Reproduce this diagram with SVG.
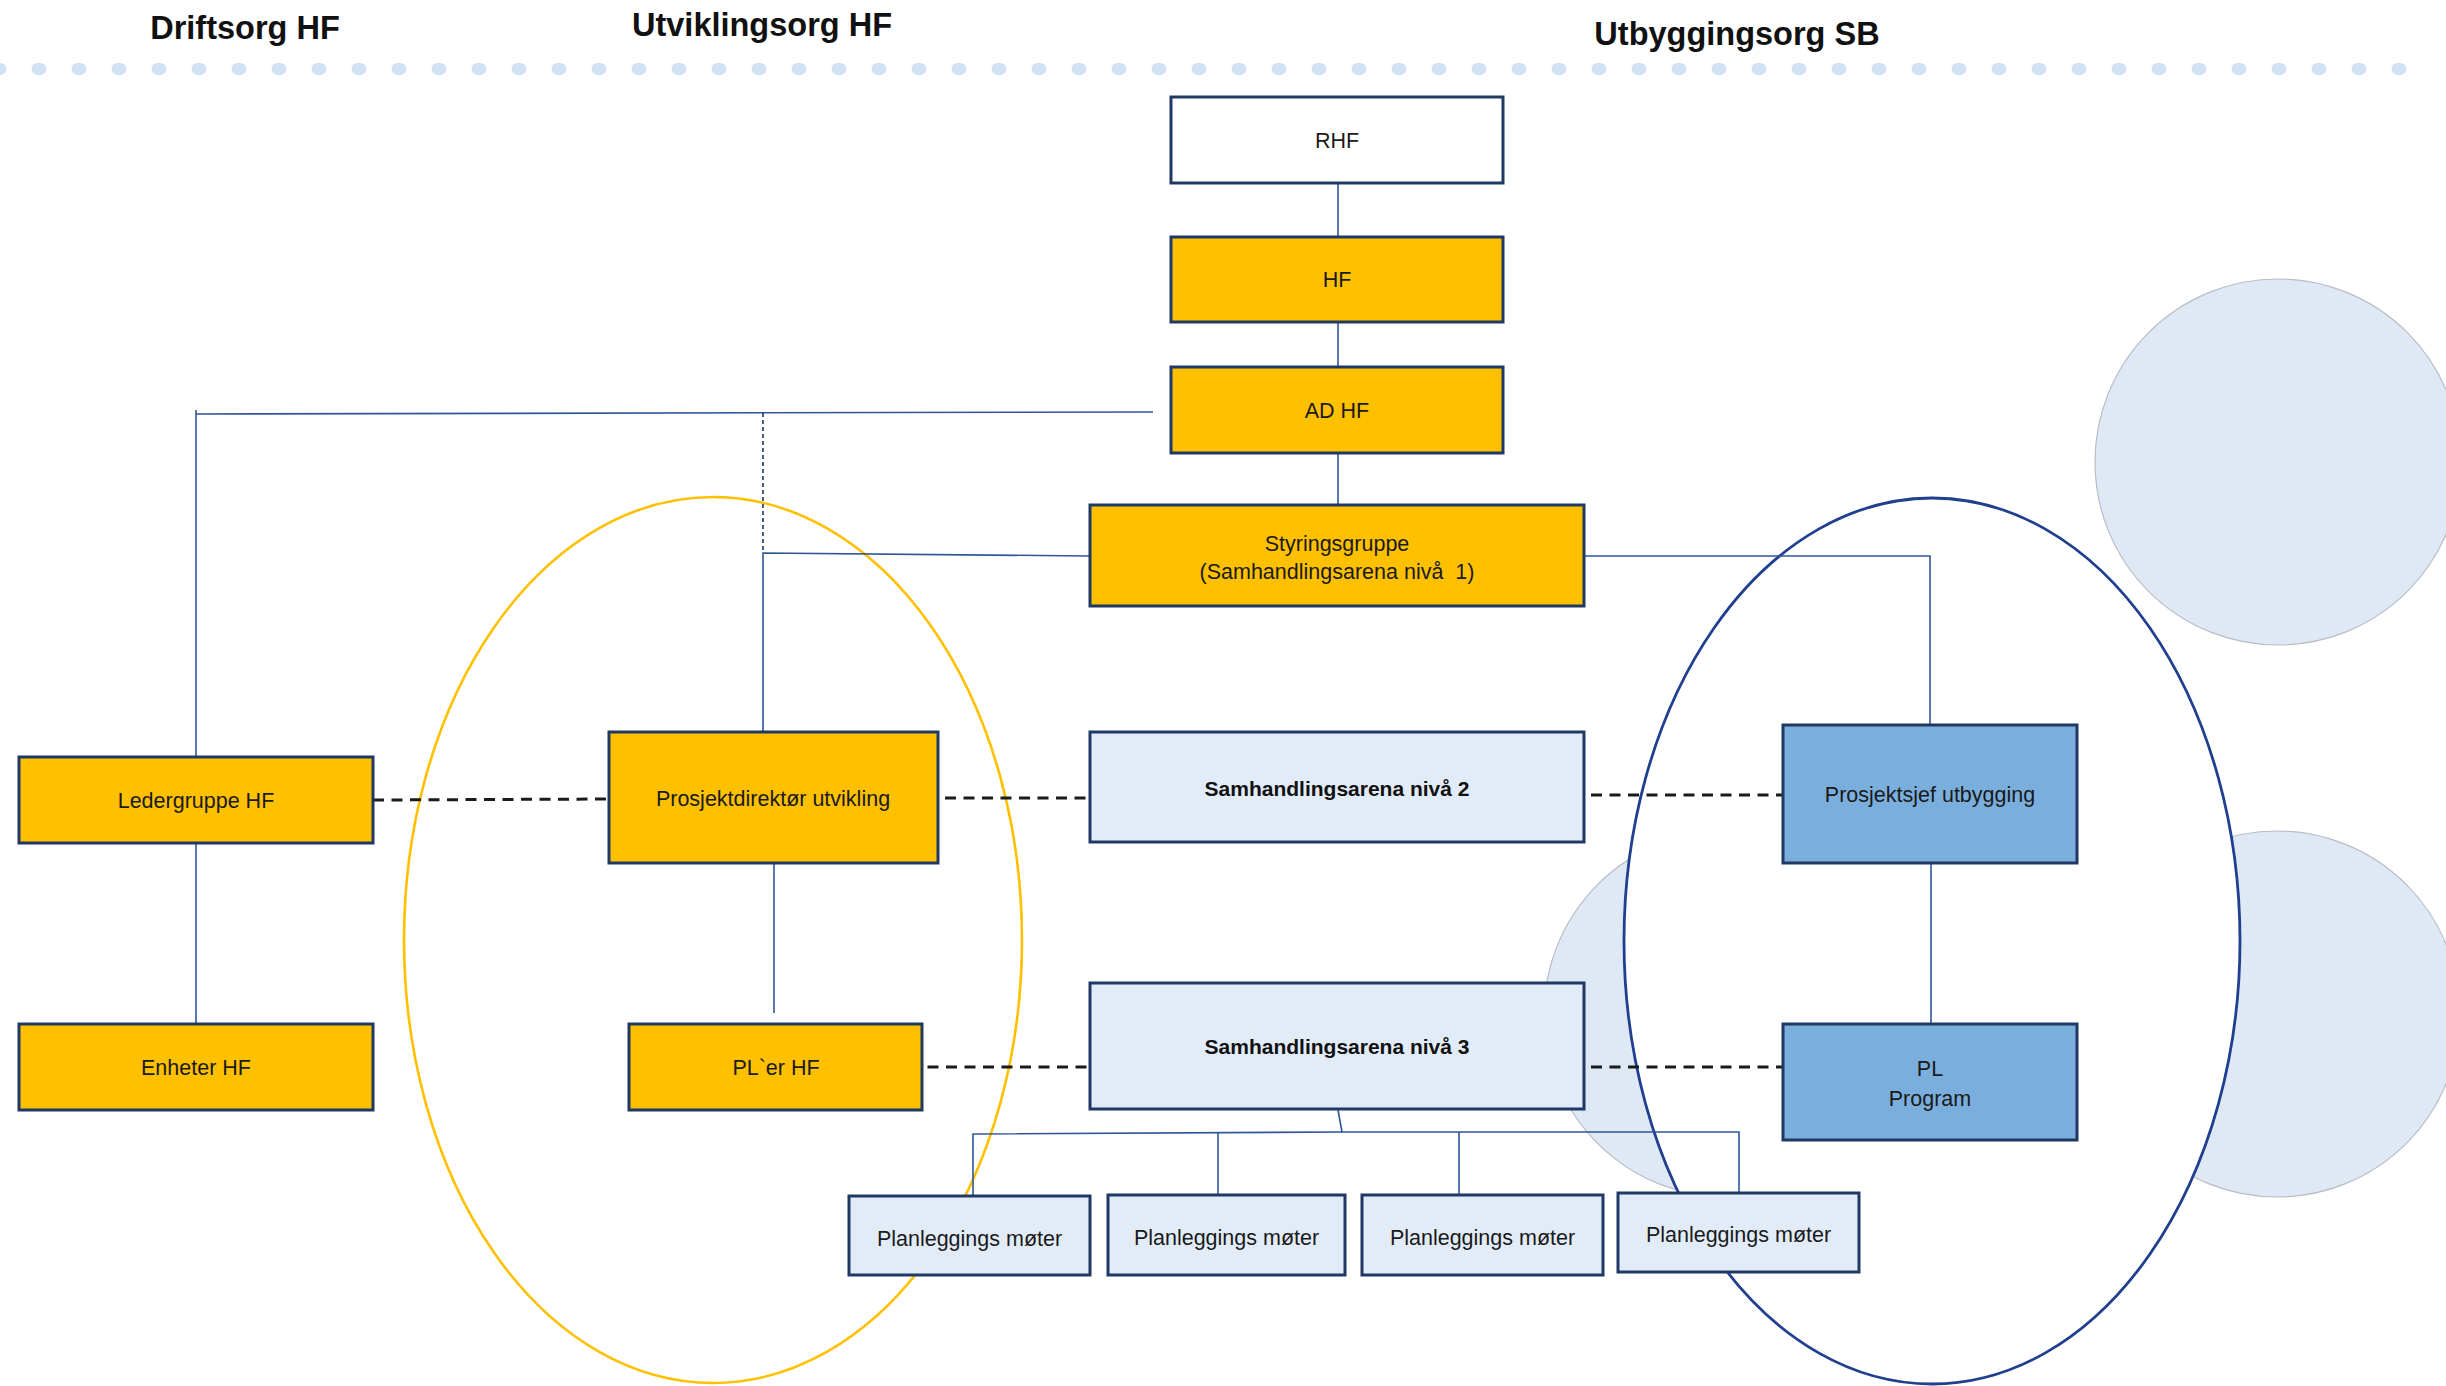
<svg xmlns="http://www.w3.org/2000/svg" width="2446" height="1386" viewBox="0 0 2446 1386">
<style>
  .hdr { font-family: "Liberation Sans", Arial, sans-serif; font-weight: bold; font-size: 32.5px; fill: #111; text-anchor: middle; }
  .t { font-family: "Liberation Sans", Arial, sans-serif; font-size: 21.5px; fill: #1a1a1a; text-anchor: middle; }
  .tb { font-family: "Liberation Sans", Arial, sans-serif; font-size: 21px; font-weight: bold; fill: #111; text-anchor: middle; }
  .box { stroke: #1f3864; stroke-width: 3; }
  .white { fill: #ffffff; }
  .yel { fill: #ffc000; }
  .lb { fill: #e2ecf8; }
  .mb { fill: #7aaedc; }
  .ln { fill: none; stroke: #2f5597; stroke-width: 1.6; }
  .dash { fill: none; stroke: #1a1a1a; stroke-width: 3; stroke-dasharray: 11 7.5; }
  .vdash { fill: none; stroke: #1f3864; stroke-width: 1.6; stroke-dasharray: 4 3; }
  .bubble { fill: #dfe9f6; stroke: #b8bcc4; stroke-width: 1.2; }
</style>

<g id="background">
  <line x1="-2.5" y1="69" x2="2403" y2="69" stroke="#d0e2f4" stroke-width="12" stroke-linecap="round" stroke-dasharray="3 37"/>
  <circle class="bubble" cx="2278" cy="462" r="183"/>
  <circle class="bubble" cx="2277" cy="1014" r="183"/>
  <circle class="bubble" cx="1727" cy="1014" r="183"/>
  <ellipse cx="1932" cy="941" rx="308" ry="443" fill="#ffffff" stroke="#203f8f" stroke-width="2.8"/>
  <ellipse cx="713" cy="940" rx="309" ry="443" fill="none" stroke="#ffc000" stroke-width="2.6"/>
</g>

<g id="headers">
  <text class="hdr" x="245" y="39">Driftsorg HF</text>
  <text class="hdr" x="762" y="36">Utviklingsorg HF</text>
  <text class="hdr" x="1737" y="45">Utbyggingsorg SB</text>
</g>

<g id="connectors">
  <path class="ln" d="M1338 183 V237"/>
  <path class="ln" d="M1338 322 V367"/>
  <path class="ln" d="M1338 453 V505"/>
  <path class="ln" d="M1153 412 L196 414"/>
  <path class="ln" d="M196 410 V757"/>
  <path class="vdash" d="M763 413 V553"/>
  <path class="ln" d="M1090 556 L763 553 V732"/>
  <path class="ln" d="M1584 556 H1930 V749"/>
  <path class="ln" d="M196 843 V1024"/>
  <path class="ln" d="M774 863 V1013"/>
  <path class="ln" d="M1931 863 V1024"/>
  <path class="ln" d="M1338 1110 L1342 1132"/>
  <path class="ln" d="M973 1196 V1134 L1342 1132 H1739 V1193"/>
  <path class="ln" d="M1218 1132 V1195"/>
  <path class="ln" d="M1459 1132 V1195"/>
  <path class="dash" d="M373 800 L609 799"/>
  <path class="dash" d="M945 798 H1090"/>
  <path class="dash" d="M1591 795 H1783"/>
  <path class="dash" d="M909 1067 H1090"/>
  <path class="dash" d="M1591 1067 H1783"/>
</g>

<g id="rhf">
  <rect class="box white" x="1171" y="97" width="332" height="86"/>
  <text class="t" x="1337" y="147.5">RHF</text>
</g>
<g id="hf">
  <rect class="box yel" x="1171" y="237" width="332" height="85"/>
  <text class="t" x="1337" y="286.5">HF</text>
</g>
<g id="adhf">
  <rect class="box yel" x="1171" y="367" width="332" height="86"/>
  <text class="t" x="1337" y="417.5">AD HF</text>
</g>
<g id="styringsgruppe">
  <rect class="box yel" x="1090" y="505" width="494" height="101"/>
  <text class="t" x="1337" y="550.5">Styringsgruppe</text>
  <text class="t" x="1337" y="578.5" style="white-space:pre">(Samhandlingsarena nivå  1)</text>
</g>
<g id="ledergruppe">
  <rect class="box yel" x="19" y="757" width="354" height="86"/>
  <text class="t" x="196" y="807.5">Ledergruppe HF</text>
</g>
<g id="enheter">
  <rect class="box yel" x="19" y="1024" width="354" height="86"/>
  <text class="t" x="196" y="1074.5">Enheter HF</text>
</g>
<g id="prosjektdirektor">
  <rect class="box yel" x="609" y="732" width="329" height="131"/>
  <text class="t" x="773" y="805.5">Prosjektdirektør utvikling</text>
</g>
<g id="pler">
  <rect class="box yel" x="629" y="1024" width="293" height="86"/>
  <text class="t" x="776" y="1074.5">PL`er HF</text>
</g>
<g id="samh2">
  <rect class="box lb" x="1090" y="732" width="494" height="110"/>
  <text class="tb" x="1337" y="795.5">Samhandlingsarena nivå 2</text>
</g>
<g id="samh3">
  <rect class="box lb" x="1090" y="983" width="494" height="126"/>
  <text class="tb" x="1337" y="1053.5">Samhandlingsarena nivå 3</text>
</g>
<g id="prosjektsjef">
  <rect class="box mb" x="1783" y="725" width="294" height="138"/>
  <text class="t" x="1930" y="802">Prosjektsjef utbygging</text>
</g>
<g id="plprogram">
  <rect class="box mb" x="1783" y="1024" width="294" height="116"/>
  <text class="t" x="1930" y="1075.5">PL</text>
  <text class="t" x="1930" y="1105.5">Program</text>
</g>
<g id="plan1">
  <rect class="box lb" x="849" y="1196" width="241" height="79"/>
  <text class="t" x="969.5" y="1245.5">Planleggings møter</text>
</g>
<g id="plan2">
  <rect class="box lb" x="1108" y="1195" width="237" height="80"/>
  <text class="t" x="1226.5" y="1244.5">Planleggings møter</text>
</g>
<g id="plan3">
  <rect class="box lb" x="1362" y="1195" width="241" height="80"/>
  <text class="t" x="1482.5" y="1244.5">Planleggings møter</text>
</g>
<g id="plan4">
  <rect class="box lb" x="1618" y="1193" width="241" height="79"/>
  <text class="t" x="1738.5" y="1241.5">Planleggings møter</text>
</g>
</svg>
